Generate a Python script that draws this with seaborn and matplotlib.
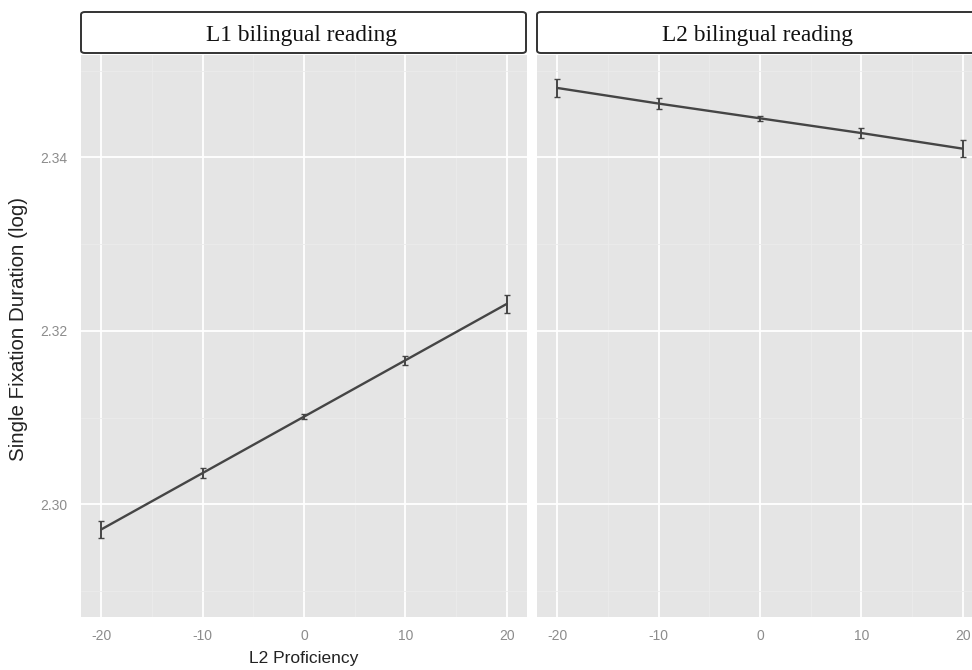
import matplotlib
matplotlib.use("Agg")
import matplotlib.pyplot as plt
from matplotlib.patches import FancyBboxPatch
import seaborn as sns
import pandas as pd

# Model estimates of single fixation duration by L2 proficiency
proficiency = [-20, -10, 0, 10, 20]
l1_fix = [2.2971, 2.3036, 2.3101, 2.3166, 2.3231]
l1_se = [0.0010, 0.0006, 0.0003, 0.0005, 0.0010]
l2_fix = [2.3480, 2.3462, 2.3445, 2.3428, 2.3410]
l2_se = [0.0010, 0.0006, 0.0003, 0.0006, 0.0010]
panel_titles = ["L1 bilingual reading", "L2 bilingual reading"]
y_ticks = [2.30, 2.32, 2.34]
y_labels = ["2.30", "2.32", "2.34"]
x_ticks = [-20, -10, 0, 10, 20]

sns.set_theme(style="darkgrid")
plt.rcParams["font.family"] = ["Liberation Sans", "DejaVu Sans"]

W, H = 972, 670
fig = plt.figure(figsize=(W / 100, H / 100), dpi=100)

line_col = "#454545"
tick_col = "#8c8c8c"

panels = [
    (81, panel_titles[0], l1_fix, l1_se),
    (537, panel_titles[1], l2_fix, l2_se),
]
top_px, bot_px, pw = 55, 617, 446

for i, (left_px, title, vals, errs) in enumerate(panels):
    ax = fig.add_axes([left_px / W, (H - bot_px) / H, pw / W, (bot_px - top_px) / H])
    ax.set_facecolor("#e5e5e5")
    df = pd.DataFrame({"x": proficiency, "y": vals})
    sns.lineplot(data=df, x="x", y="y", ax=ax, color=line_col, linewidth=1.7, zorder=3)
    ax.errorbar(proficiency, vals, yerr=errs, fmt="none", ecolor=line_col,
                elinewidth=1.4, capsize=2.0, capthick=1.0, zorder=4)
    ax.set_xlim(-22, 22)
    ax.set_ylim(2.2870, 2.3518)
    ax.set_xticks(x_ticks)
    ax.set_xticklabels([str(t) for t in x_ticks])
    ax.set_xticks([-15, -5, 5, 15], minor=True)
    ax.set_yticks(y_ticks)
    ax.set_yticks([2.29, 2.31, 2.33, 2.35], minor=True)
    ax.grid(which="major", color="white", linewidth=1.3)
    ax.grid(which="minor", color="#ececec", linewidth=0.6)
    for s in ax.spines.values():
        s.set_visible(False)
    ax.tick_params(axis="x", which="major", length=4, width=0.9, color=tick_col,
                   labelcolor=tick_col, labelsize=10, pad=5)
    ax.tick_params(which="minor", length=0)
    if i == 0:
        ax.set_yticklabels(y_labels)
        ax.tick_params(axis="y", which="major", length=4, width=0.9, color=tick_col,
                       labelcolor=tick_col, labelsize=10, pad=6)
    else:
        ax.tick_params(axis="y", which="major", length=0, labelleft=False)
    ax.set_ylabel("")
    ax.set_xlabel("")

    # facet strip header
    hx0, hx1 = left_px, left_px + (445 if i == 0 else 450)
    hy0, hy1 = 12, 53
    box = FancyBboxPatch((hx0 / W, (H - hy1) / H), (hx1 - hx0) / W, (hy1 - hy0) / H,
                         boxstyle="round,pad=0,rounding_size=0.004",
                         transform=fig.transFigure, facecolor="white",
                         edgecolor="#333333", linewidth=1.4, clip_on=False)
    fig.patches.append(box)
    fig.text((left_px + 221) / W, (H - 36) / H, title, ha="center", va="center",
             fontsize=16.8, family="Liberation Serif", color="#111111")

fig.text(19 / W, (H - 329) / H, "Single Fixation Duration (log)", rotation=90,
         ha="center", va="center", fontsize=14.8, color="#222222")
fig.text(304 / W, (H - 659) / H, "L2 Proficiency", ha="center", va="center",
         fontsize=12.5, color="#222222")

fig.savefig("out.png", dpi=100)
